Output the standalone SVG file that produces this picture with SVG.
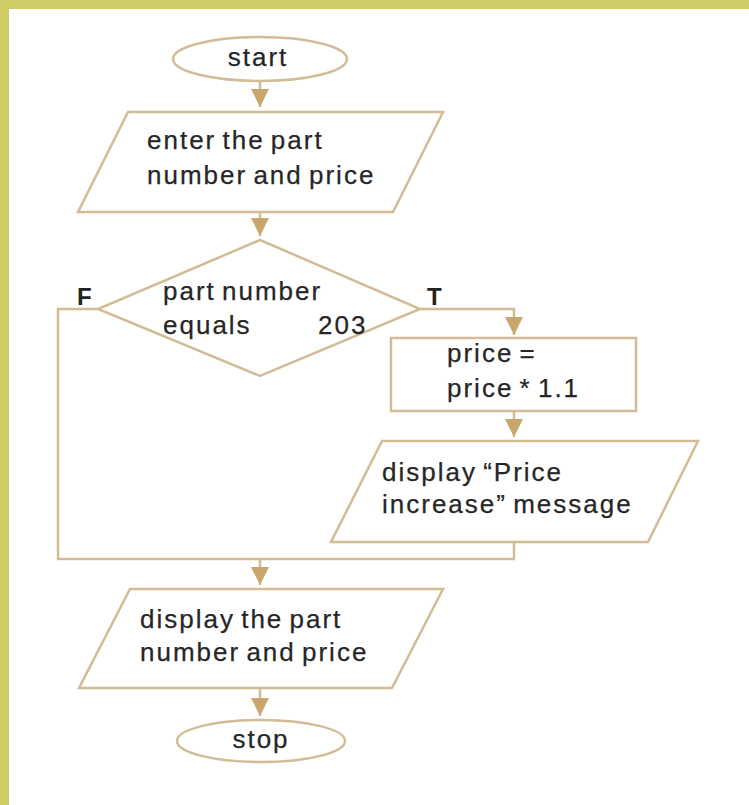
<svg xmlns="http://www.w3.org/2000/svg" width="749" height="805" viewBox="0 0 749 805">
  <defs>
    <marker id="arrow" viewBox="0 0 18 18" refX="18" refY="9" markerWidth="18" markerHeight="18" markerUnits="userSpaceOnUse" orient="auto">
      <path d="M0,0 L18,9 L0,18 z" fill="#c9a66e"/>
    </marker>
    <style>
      .shape { fill: #ffffff; stroke: #d1bc96; stroke-width: 2.5; }
      .conn { fill: none; stroke: #d1bc96; stroke-width: 2.5; }
      .arr { marker-end: url(#arrow); }
      .label { font-family: "Liberation Sans", Arial, sans-serif; font-size: 26px; letter-spacing: 2px; word-spacing: -3px; fill: #262626; stroke: #262626; stroke-width: 0.25px; }
      .mid { text-anchor: middle; }
      .flag { font-family: "Liberation Sans", Arial, sans-serif; font-size: 24px; font-weight: bold; fill: #222222; }
    </style>
  </defs>

  <!-- page and frame -->
  <rect x="0" y="0" width="749" height="805" fill="#ffffff"/>
  <rect x="0" y="0" width="749" height="9" fill="#cdcc66"/>
  <rect x="0" y="0" width="9" height="805" fill="#cdcc66"/>

  <!-- connectors -->
  <g id="connectors">
    <line class="conn arr" x1="260" y1="81" x2="260" y2="107"/>
    <line class="conn arr" x1="260" y1="212" x2="260" y2="236"/>
    <polyline class="conn arr" points="420,309 514,309 514,335"/>
    <line class="conn arr" x1="514" y1="411" x2="514" y2="437"/>
    <polyline class="conn" points="98,309 58,309 58,559 514,559 514,542"/>
    <line class="conn arr" x1="260" y1="559" x2="260" y2="585"/>
    <line class="conn arr" x1="260" y1="688" x2="260" y2="716"/>
  </g>

  <g id="start">
    <ellipse class="shape" cx="260" cy="59" rx="87" ry="22"/>
    <text class="label mid" x="258" y="66">start</text>
  </g>

  <g id="enter-input">
    <polygon class="shape" points="128,112 443,112 393,212 78,212"/>
    <text class="label" x="147" y="149">enter the part</text>
    <text class="label" x="147" y="184">number and price</text>
  </g>

  <g id="decision">
    <polygon class="shape" points="260,240 420,309 260,376 98,309"/>
    <text class="label" x="163" y="300">part number</text>
    <text class="label" x="163" y="334">equals</text>
    <text class="label" x="318" y="334">203</text>
  </g>

  <g id="label-false">
    <text class="flag" x="77" y="305">F</text>
  </g>
  <g id="label-true">
    <text class="flag" x="427" y="305">T</text>
  </g>

  <g id="increase">
    <rect class="shape" x="391" y="338" width="245" height="73"/>
    <text class="label" x="447" y="362">price =</text>
    <text class="label" x="447" y="397">price * 1.1</text>
  </g>

  <g id="message-output">
    <polygon class="shape" points="382,441 698,441 648,542 331,542"/>
    <text class="label" x="382" y="481">display “Price</text>
    <text class="label" x="382" y="513">increase” message</text>
  </g>

  <g id="display-output">
    <polygon class="shape" points="130,589 443,589 392,688 79,688"/>
    <text class="label" x="140" y="628">display the part</text>
    <text class="label" x="140" y="661">number and price</text>
  </g>

  <g id="stop">
    <ellipse class="shape" cx="261" cy="741" rx="84" ry="21"/>
    <text class="label mid" x="261" y="748">stop</text>
  </g>
</svg>
